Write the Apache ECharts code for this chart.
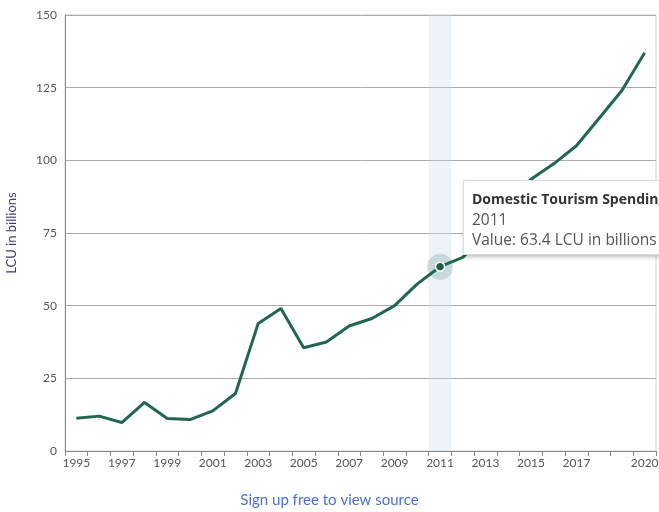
<!DOCTYPE html>
<html>
<head>
<meta charset="utf-8">
<script src="https://cdn.jsdelivr.net/npm/echarts@6/dist/echarts.min.js"></script>
<style>
html, body { margin: 0; padding: 0; overflow: hidden; background: #fff; }
#spending_chart { width: 659px; height: 512px; }
</style>
</head>
<body>
<div id="spending_chart"></div>
<script>
// values
var years = ['1995', '1996', '1997', '1998', '1999', '2000', '2001', '2002', '2003', '2004',
	'2005', '2006', '2007', '2008', '2009', '2010', '2011', '2012', '2013', '2014',
	'2015', '2016', '2017', '2018', '2019', '2020'];
var spending = [11.3, 12.0, 9.8, 16.7, 11.2, 10.8, 13.8, 19.8, 43.9, 49.0,
	35.5, 37.5, 43.0, 45.6, 50.0, 57.5, 63.4, 66.6, 74.5, 83.5,
	93.5, 98.8, 105.0, 114.5, 124.0, 137.0];
var yTicks = [0, 25, 50, 75, 100, 125, 150];
var labelYears = ['1995', '1997', '1999', '2001', '2003', '2005', '2007', '2009',
	'2011', '2013', '2015', '2017', '2020'];
var hoverIndex = 16;

var lineColor = '#1e5e48';
var fontName = 'Lato';
var tipFont = 'Open Sans';

var myChart = echarts.init(document.getElementById('spending_chart'));
myChart.setOption(getOption());
myChart.dispatchAction({type: 'showTip', seriesIndex: 0, dataIndex: hoverIndex});

function getOption(){
	var option = {
		animation: false,
		textStyle: {fontFamily: fontName},
		grid: {
			left: 65, right: 3, top: 15, bottom: 61,
			outerBoundsMode: 'none',
			show: true, borderColor: '#d4d4d4', borderWidth: 1
		},
		title: {
			text: 'Sign up free to view source',
			left: 'center',
			top: 493,
			padding: 0,
			textStyle: {color: '#4d6fcf', fontSize: 15, fontWeight: 'normal', fontFamily: fontName}
		},
		tooltip: {
			trigger: 'axis',
			triggerOn: 'none',
			alwaysShowContent: true,
			position: [463, 180],
			backgroundColor: '#fff',
			borderColor: '#ddd',
			borderWidth: 1,
			padding: [7, 8, 5, 8],
			extraCssText: 'white-space:nowrap;border-radius:0;box-shadow:1px 2px 4px rgba(0,0,0,0.25);line-height:20px;',
			textStyle: {fontFamily: tipFont, fontSize: 15.5, color: '#555'},
			axisPointer: {type: 'shadow', z: 0, shadowStyle: {color: 'rgba(205,218,238,0.35)'}},
			formatter: function (params) {
				var p = params[0];
				return '<b style="color:#333;font-size:14px">Domestic Tourism Spending</b><br/>' + p.name +
					'<br/>Value: ' + p.value + ' LCU in billions';
			}
		},
		xAxis: {
			type: 'category',
			data: years,
			boundaryGap: true,
			axisLine: {lineStyle: {color: '#888', width: 1}},
			axisTick: {show: true, length: 5, alignWithLabel: false, interval: 0, lineStyle: {color: '#888'}},
			axisLabel: {
				color: '#555',
				fontSize: 12,
				margin: 6,
				interval: function (index, value) {
					return labelYears.indexOf(value) >= 0;
				}
			},
			splitLine: {show: false}
		},
		yAxis: {
			type: 'value',
			min: yTicks[0],
			max: yTicks[yTicks.length - 1],
			interval: 25,
			name: 'LCU in billions',
			nameLocation: 'middle',
			nameGap: 47,
			nameTextStyle: {color: '#3e3a78', fontSize: 13, fontFamily: fontName},
			axisLine: {show: true, lineStyle: {color: '#888'}},
			axisTick: {show: false},
			axisLabel: {color: '#555', fontSize: 12, margin: 8},
			splitLine: {lineStyle: {color: '#aaa', width: 1}}
		},
		series: [
			{
				name: 'Domestic Tourism Spending',
				type: 'line',
				data: spending,
				z: 3,
				showSymbol: false,
				symbol: 'circle',
				symbolSize: 9,
				lineStyle: {color: lineColor, width: 3},
				itemStyle: {color: lineColor, borderColor: '#fff', borderWidth: 1.5},
				emphasis: {scale: false, lineStyle: {width: 3}}
			},
			{
				// halo under the hovered point
				name: 'halo',
				type: 'scatter',
				silent: true,
				z: 1,
				symbolSize: 26,
				itemStyle: {color: 'rgba(30,94,72,0.22)'},
				data: [[hoverIndex, spending[hoverIndex]]],
				tooltip: {show: false}
			}
		]
	};
	return option;
}
</script>
</body>
</html>
